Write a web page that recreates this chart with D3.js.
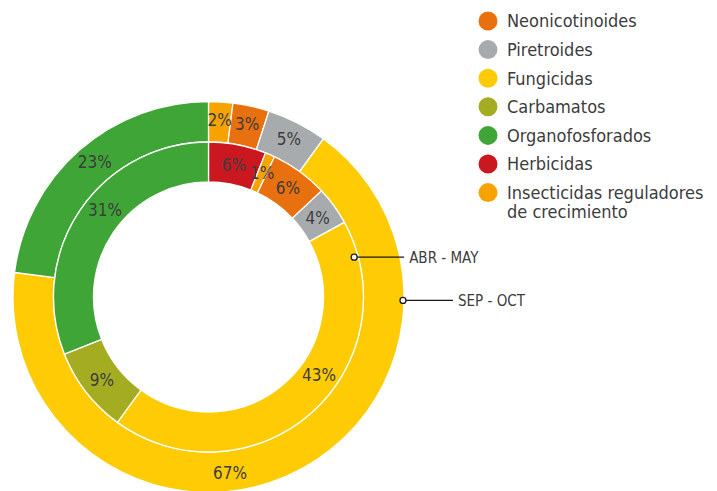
<!DOCTYPE html>
<html>
<head>
<meta charset="utf-8">
<script src="https://cdn.jsdelivr.net/npm/d3@7"></script>
<style>
  body { margin: 0; background: #fff; }
  svg { display: block; font-family: "Liberation Sans Narrow", "DejaVu Sans Condensed", "Open Sans", sans-serif; }
</style>
</head>
<body>
<svg id="chart" width="717" height="491"></svg>
<script>
/* data */

const categories = ["Neonicotinoides", "Piretroides", "Fungicidas", "Carbamatos",
  "Organofosforados", "Herbicidas", "Insecticidas reguladores de crecimiento"];
const colors = ["#e8700e", "#a7abae", "#ffcb05", "#a4ad22", "#40a537", "#cb1820", "#f6a300"];

// outer ring, clockwise from 12 o'clock
const sepOctCats = ["Insecticidas reguladores de crecimiento", "Neonicotinoides", "Piretroides", "Fungicidas", "Organofosforados"];
const sepOctValues = [2, 3, 5, 67, 23];

// inner ring
const abrMayCats = ["Herbicidas", "Insecticidas reguladores de crecimiento", "Neonicotinoides", "Piretroides",
  "Fungicidas", "Carbamatos", "Organofosforados"];
const abrMayValues = [6, 1, 6, 4, 43, 9, 31];

const ringLabels = ["SEP - OCT", "ABR - MAY"];

/* layout */

let svg = d3.select("#chart");
let cx = 208.5, cy = 297;
let rOuter = 195.5, rMid = 155, rInner = 115;

let color = d3.scaleOrdinal().domain(categories).range(colors);

let pie = d3.pie().sort(null).value(d => d.v);

// a few labels sit off the centroid in the original
let labelAngle = { "67": 173, "43": 125, "31": 310, "23": 320 };

function drawRing(cats, values, r0, r1, cls, rl) {
  let data = pie(cats.map((c, i) => ({ c: c, v: values[i] })));
  let arc = d3.arc().innerRadius(r0).outerRadius(r1);
  let g = svg.append("g")
    .attr("class", cls)
    .attr("transform", "translate(" + cx + "," + cy + ")");

  g.selectAll("path")
    .data(data)
    .enter().append("path")
    .attr("d", arc)
    .attr("fill", d => color(d.data.c))
    .attr("stroke", "#fff")
    .attr("stroke-width", 1.3);

  g.selectAll("text")
    .data(data)
    .enter().append("text")
    .attr("transform", d => {
      let a = labelAngle[d.data.v] != null ? labelAngle[d.data.v] * Math.PI / 180 : (d.startAngle + d.endAngle) / 2;
      return "translate(" + (rl * Math.sin(a)) + "," + (-rl * Math.cos(a)) + ")";
    })
    .attr("text-anchor", "middle")
    .attr("dy", "0.36em")
    .attr("font-size", "17px")
    .attr("fill", "#3c3c3c")
    .text(d => d.data.v + "%");
}

drawRing(sepOctCats, sepOctValues, rMid, rOuter, "sep-oct", 177);
drawRing(abrMayCats, abrMayValues, rInner, rMid, "abr-may", 135);

/* ring callouts */

function callout(r, angle, len, label) {
  let a = angle * Math.PI / 180;
  let x = cx + r * Math.sin(a);
  let y = cy - r * Math.cos(a);
  let g = svg.append("g").attr("class", "callout");
  g.append("line")
    .attr("x1", x).attr("y1", y)
    .attr("x2", x + len).attr("y2", y)
    .attr("stroke", "#1a1a1a")
    .attr("stroke-width", 1.3);
  g.append("circle")
    .attr("cx", x).attr("cy", y).attr("r", 3)
    .attr("fill", "#fff")
    .attr("stroke", "#1a1a1a")
    .attr("stroke-width", 1.3);
  g.append("text")
    .attr("x", x + len + 5).attr("y", y)
    .attr("dy", "0.36em")
    .attr("font-size", "15px")
    .attr("fill", "#3c3c3c")
    .text(label);
}

callout(rOuter - 1, 91, 50, ringLabels[0]);
callout(rMid - 4, 74.7, 50, ringLabels[1]);

/* legend */

let legend = svg.append("g")
  .attr("class", "legend")
  .attr("transform", "translate(488,21)");

let item = legend.selectAll("g")
  .data(categories)
  .enter().append("g")
  .attr("transform", (d, i) => "translate(0," + (i * 28.6) + ")");

item.append("circle")
  .attr("r", 9.5)
  .attr("fill", d => color(d));

item.append("text")
  .attr("x", 19)
  .attr("font-size", "18px")
  .attr("fill", "#3c3c3c")
  .each(function (d) {
    let t = d3.select(this);
    let lines = d === "Insecticidas reguladores de crecimiento" ? ["Insecticidas reguladores", "de crecimiento"] : [d];
    lines.forEach((l, j) => {
      t.append("tspan")
        .attr("x", 19)
        .attr("dy", j === 0 ? "0.36em" : "1.05em")
        .text(l);
    });
  });
</script>
</body>
</html>
